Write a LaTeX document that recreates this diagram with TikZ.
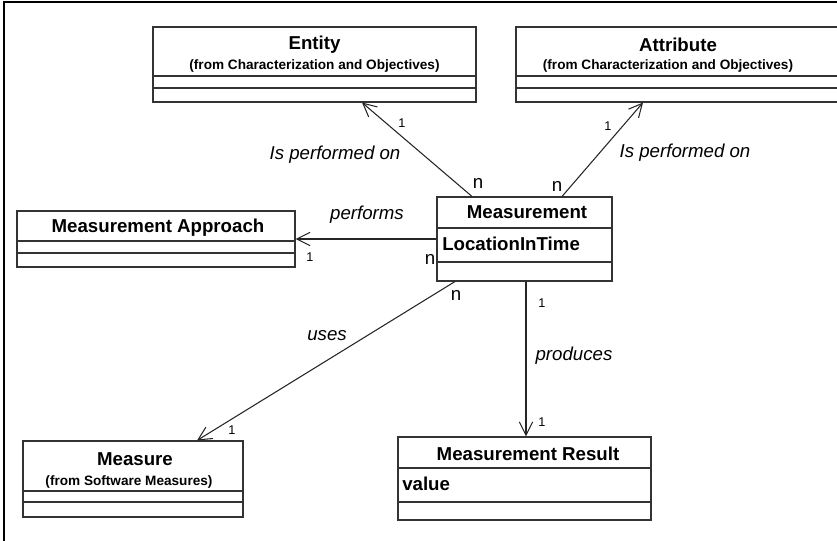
\documentclass[tikz,border=0pt]{standalone}
\usepackage{fontspec}
\setmainfont{Liberation Sans}
\usetikzlibrary{arrows.meta,calc,fit}
\tikzstyle{classbox} = [draw=black!80, line width=0.8pt, rectangle, inner sep=0pt]
\tikzstyle{part} = [draw=black!80, line width=0.8pt]
\tikzstyle{arrow} = [black!85, line width=0.8pt, -{Straight Barb[length=10pt,width=10pt]}]
\tikzstyle{title} = [font=\fontsize{14}{16}\selectfont\bfseries, inner sep=0pt]
\tikzstyle{origin} = [font=\fontsize{10.2}{11}\selectfont\bfseries, inner sep=0pt]
\tikzstyle{attr} = [font=\fontsize{14}{16}\selectfont\bfseries, inner sep=0pt, anchor=west]
\tikzstyle{role} = [font=\fontsize{14}{16}\selectfont\itshape, inner sep=0pt]
\tikzstyle{many} = [font=\fontsize{14}{16}\selectfont, inner sep=0pt]
\tikzstyle{one} = [font=\fontsize{9.5}{11}\selectfont, inner sep=0pt]

\begin{document}
\begin{tikzpicture}[x=0.75pt, y=-0.75pt]
    \useasboundingbox (0,0) rectangle (837,541);
    % frame
    \draw[line width=1.5pt] (4,545) -- (4,2) -- (840,2);

    % classes
    \node[classbox, fit={(153,27) (476,102)}] (entity) {};
    \node[title] (entityname) at (314.5,45) {Entity};
    \node[origin] (entityfrom) at (314.5,66) {(from Characterization and Objectives)};
    \draw[part] (153,76) -- (476,76);
    \draw[part] (153,88) -- (476,88);

    \node[classbox, fit={(516,27) (845,102)}] (attribute) {};
    \node[title] (attributename) at (678,45) {Attribute};
    \node[origin] (attributefrom) at (668,66) {(from Characterization and Objectives)};
    \draw[part] (516,76) -- (845,76);
    \draw[part] (516,88) -- (845,88);

    \node[classbox, fit={(17,211) (295,267)}] (approach) {};
    \node[title] (approachname) at (158,228) {Measurement Approach};
    \draw[part] (17,241) -- (295,241);
    \draw[part] (17,253) -- (295,253);

    \node[classbox, fit={(437,197) (612,281)}] (measurement) {};
    \node[title] (measurementname) at (527,212) {Measurement};
    \draw[part] (437,228) -- (612,228);
    \node[attr] (location) at (442,244) {LocationInTime};
    \draw[part] (437,262) -- (612,262);

    \node[classbox, fit={(23,441) (243,517)}] (measure) {};
    \node[title] (measurename) at (135,459) {Measure};
    \node[origin] (measurefrom) at (129,482) {(from Software Measures)};
    \draw[part] (23,491) -- (243,491);
    \draw[part] (23,502) -- (243,502);

    \node[classbox, fit={(398,437) (651,520)}] (result) {};
    \node[title] (resultname) at (528,454) {Measurement Result};
    \draw[part] (398,468) -- (651,468);
    \node[attr] (value) at (402,484) {value};
    \draw[part] (398,502) -- (651,502);

    % associations
    \draw[arrow] ($(measurement.north)+(-52.5,0)$) -- ($(entity.south)+(47.5,0)$);
    \node[role] (onentity) at (335,155) {Is performed on};
    \node[one] (entityone) at (402,123) {1};
    \node[many] (entitymany) at (478,183) {n};

    \draw[arrow] ($(measurement.north)+(37.5,0)$) -- ($(attribute.south)+(-37.5,0)$);
    \node[role] (onattribute) at (685,153) {Is performed on};
    \node[one] (attributeone) at (608,126) {1};
    \node[many] (attributemany) at (557,186) {n};

    \draw[arrow] (measurement.west) -- (approach.east);
    \node[role] (performs) at (367,215) {performs};
    \node[one] (approachone) at (310,257) {1};
    \node[many] (approachmany) at (430,259) {n};

    \draw[arrow] ($(measurement.south)+(-69.5,0)$) -- ($(measure.north)+(64,0)$);
    \node[role] (uses) at (327,336) {uses};
    \node[one] (measureone) at (232,430) {1};
    \node[many] (measuremany) at (456,295) {n};

    \draw[arrow] ($(measurement.south)+(1.5,0)$) -- ($(result.north)+(1.5,0)$);
    \node[role] (produces) at (574,356) {produces};
    \node[one] (producesfrom) at (542,303) {1};
    \node[one] (resultone) at (542,422) {1};
\end{tikzpicture}
\end{document}
